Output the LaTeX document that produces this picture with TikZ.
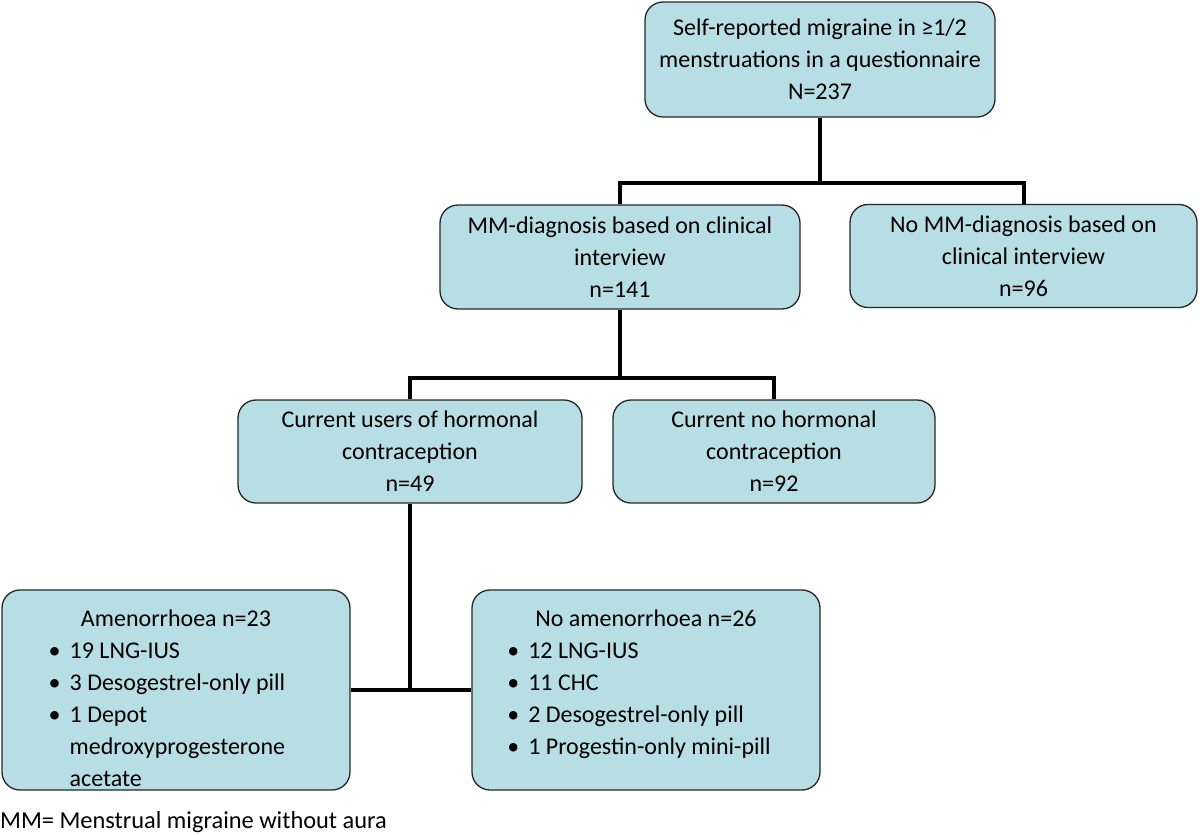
\documentclass[tikz,border=0pt]{standalone}
\usepackage{fontspec}
\setmainfont{Carlito}
\definecolor{boxfill}{RGB}{183,222,228}
\newcommand{\blt}{\textbullet}

\begin{document}
\begin{tikzpicture}[x=1pt,y=-1pt,
  box/.style={draw=black!85,line width=1.3pt,fill=boxfill,rounded corners=18pt,
    align=center,inner sep=0pt,font=\fontsize{24pt}{32pt}\selectfont},
  listbox/.style={box,minimum width=348pt,text height=68pt,text depth=132pt},
  link/.style={line width=4pt}]
\useasboundingbox (0,0) rectangle (1200,835);
\node[box,minimum width=350pt,minimum height=115pt] (top) at (820,59.5)
  {Self-reported migraine in ≥1/2\\menstruations in a questionnaire\\N=237};
\node[box,minimum width=360pt,minimum height=104pt] (mm) at (620,257)
  {MM-diagnosis based on clinical\\interview\\n=141};
\node[box,minimum width=347pt,minimum height=103pt] (nomm) at (1023.5,256)
  {No MM-diagnosis based on\\clinical interview\\n=96};
\node[box,minimum width=344pt,minimum height=103pt] (cu) at (410,451.5)
  {Current users of hormonal\\contraception\\n=49};
\node[box,minimum width=322pt,minimum height=103pt] (cn) at (774,451.5)
  {Current no hormonal\\contraception\\n=92};
\node[listbox] (am) at (176,690)
  {Amenorrhoea n=23\\
   \begin{tabular}[t]{@{}l@{\hspace{9pt}}l@{}}
   \blt & 19 LNG-IUS\\
   \blt & 3 Desogestrel-only pill\\
   \blt & 1 Depot\\
        & medroxyprogesterone\\
        & acetate
   \end{tabular}\hspace*{18pt}};
\node[listbox] (nam) at (646,690)
  {No amenorrhoea n=26\\
   \begin{tabular}[t]{@{}l@{\hspace{9pt}}l@{}}
   \blt & 12 LNG-IUS\\
   \blt & 11 CHC\\
   \blt & 2 Desogestrel-only pill\\
   \blt & 1 Progestin-only mini-pill
   \end{tabular}\hspace*{14pt}};
\node[anchor=base west,inner sep=0pt,font=\fontsize{24.4pt}{32pt}\selectfont] (note) at (0,828)
  {MM= Menstrual migraine without aura};
\coordinate (j1) at (820,183);
\coordinate (j2) at (620,378);
\draw[link] (top.south) -- (j1);
\draw[link] (mm.north) |- (j1) -| (nomm.north);
\draw[link] (mm.south) -- (j2);
\draw[link] (cu.north) |- (j2) -| (cn.north);
\draw[link] (cu.south) -- (cu.south |- am.east);
\draw[link] (am.east) -- (nam.west);
\end{tikzpicture}
\end{document}
